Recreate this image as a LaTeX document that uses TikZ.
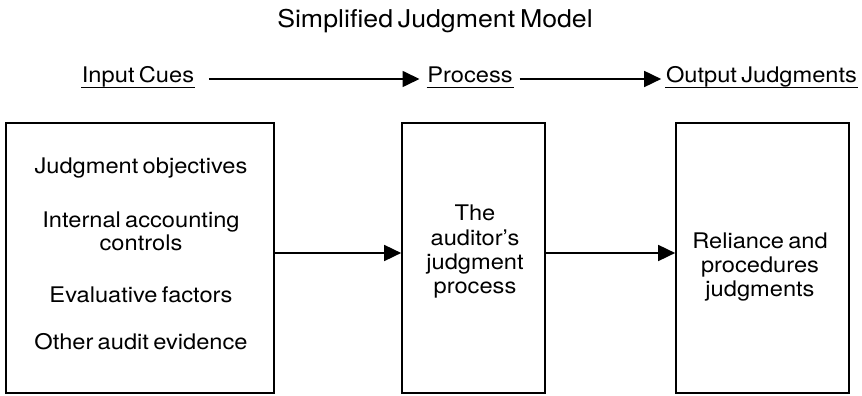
\documentclass[tikz,border=0pt]{standalone}
\usepackage{fontspec}
\setmainfont{TeX Gyre Heros}[FakeStretch=1.1,WordSpace=0.65]
\newfontfamily\titlefont{TeX Gyre Heros}[FakeStretch=1.09,WordSpace=0.65]
\usetikzlibrary{arrows.meta,calc}
\begin{document}
\begin{tikzpicture}[x=1pt,y=1pt,line width=1.7pt,
  lbl/.style={anchor=base,inner sep=0pt,font=\fontsize{21.5}{26}\selectfont},
  box/.style={draw,minimum width=#1,minimum height=270pt,inner sep=0pt},
  arr/.style={-{Triangle[length=17pt,width=16pt]}},
  ul/.style={line width=1.3pt}]
\useasboundingbox (0,0) rectangle (862,396);
% title
\node[anchor=base,inner sep=0pt,font=\titlefont\fontsize{24.5}{29}\selectfont] (title) at (435,368.5) {Simplified Judgment Model};
% top row
\node[lbl] (ic) at (138,313) {Input Cues};
\node[lbl] (pr) at (470,313) {Process};
\node[lbl] (oj) at (761.5,313) {Output Judgments};
\draw[ul] ($(ic.base west)+(0,-4.5)$) -- ($(ic.base east)+(0,-4.5)$);
\draw[ul] ($(pr.base west)+(0,-4.5)$) -- ($(pr.base east)+(0,-4.5)$);
\draw[ul] ($(oj.base west)+(0,-4.5)$) -- ($(oj.base east)+(0,-4.5)$);
\draw[arr] ($(ic.base east)+(14,4)$) -- ($(pr.base west)+(-7,4)$);
\draw[arr] ($(pr.base east)+(6,4)$) -- ($(oj.base west)+(-4,4)$);
% boxes
\node[box=268pt] (b1) at (140,138) {};
\node[box=143pt] (b2) at (473.5,138) {};
\node[box=173pt] (b3) at (762.5,138) {};
\draw[arr] ([yshift=5pt]b1.east) -- ([yshift=5pt]b2.west);
\draw[arr] ([yshift=5pt]b2.east) -- ([yshift=5pt]b3.west);
% box 1 text
\node[lbl] (t11) at (141,222) {Judgment objectives};
\node[lbl] (t12) at (141,168) {Internal accounting};
\node[lbl] (t13) at (141,145) {controls};
\node[lbl] (t14) at (141,93) {Evaluative factors};
\node[lbl] (t15) at (141,46) {Other audit evidence};
% box 2 text
\node[lbl] (t21) at (475,175) {The};
\node[lbl] (t22) at (475,150) {auditor’s};
\node[lbl] (t23) at (475,126) {judgment};
\node[lbl] (t24) at (475,102) {process};
% box 3 text
\node[lbl] (t31) at (760,147) {Reliance and};
\node[lbl] (t32) at (760,123) {procedures};
\node[lbl] (t33) at (760,99) {judgments};
\end{tikzpicture}
\end{document}
